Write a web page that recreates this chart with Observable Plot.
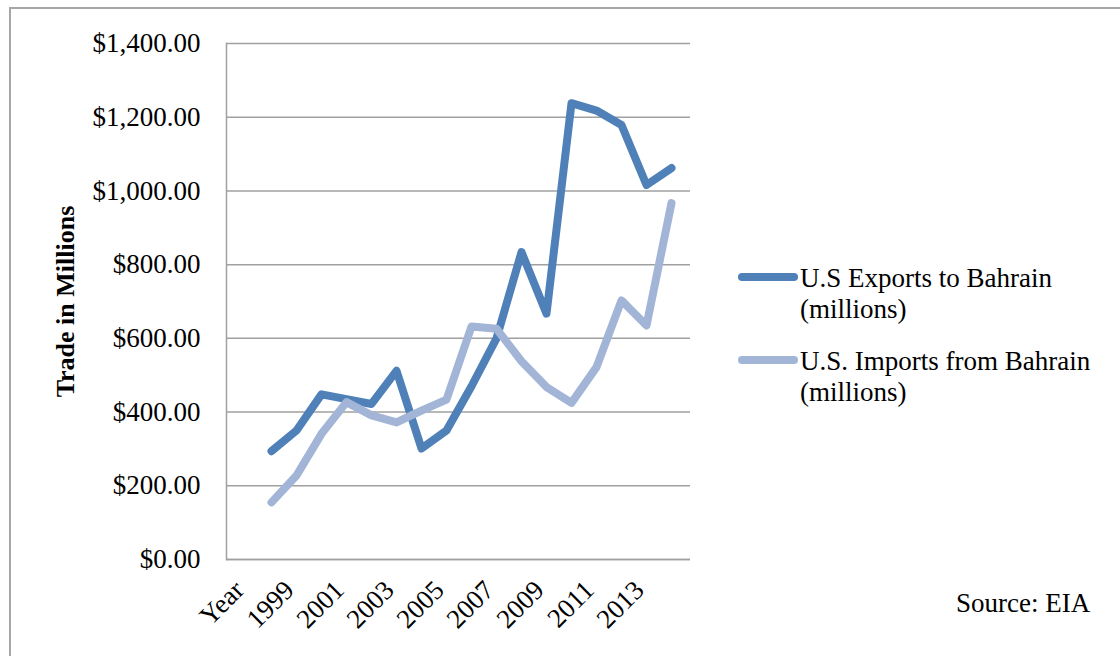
<!DOCTYPE html>
<html>
<head>
<meta charset="utf-8">
<script src="https://cdn.jsdelivr.net/npm/d3@7"></script>
<script src="https://cdn.jsdelivr.net/npm/@observablehq/plot@0.6"></script>
<style>
html, body { margin: 0; padding: 0; background: #fff; overflow: hidden; }
#wrap { position: relative; width: 1120px; height: 656px; overflow: hidden; font-family: "Liberation Serif", serif; color: #000; }
#chart { position: absolute; left: 0; top: 0; }
#frame { position: absolute; left: 9px; top: 7px; width: 1200px; height: 700px; border: 2px solid #a6a6a6; box-sizing: border-box; pointer-events: none; }
.leg { position: absolute; left: 738px; font-size: 27px; line-height: 31px; }
.leg .sw { position: absolute; left: 0; top: 10px; width: 60px; height: 8px; border-radius: 4px; }
.leg .tx { position: absolute; left: 62px; top: 0; white-space: nowrap; }
#source { position: absolute; left: 956px; top: 588px; font-size: 27px; line-height: 31px; white-space: nowrap; }
</style>
</head>
<body>
<div id="wrap">
  <div id="chart"></div>
  <div id="frame"></div>
  <div class="leg" id="leg1" style="top:263px"><div class="sw" style="background:#4f81b8"></div><div class="tx">U.S Exports to Bahrain<br>(millions)</div></div>
  <div class="leg" id="leg2" style="top:346px"><div class="sw" style="background:#a2b5d7"></div><div class="tx">U.S. Imports from Bahrain<br>(millions)</div></div>
  <div id="source">Source: EIA</div>
</div>
<script>
// Categories on the x axis (the first one is the header cell "Year", with no data)
const categories = ["Year", "1998", "1999", "2000", "2001", "2002", "2003", "2004", "2005", "2006",
  "2007", "2008", "2009", "2010", "2011", "2012", "2013", "2014"];
const years = ["1998", "1999", "2000", "2001", "2002", "2003", "2004", "2005", "2006",
  "2007", "2008", "2009", "2010", "2011", "2012", "2013", "2014"];
// U.S Exports to Bahrain (millions)
const exportsM = [294, 350, 448, 435, 422, 512, 301, 350, 470, 600, 834, 667, 1238, 1218, 1179, 1016, 1062];
// U.S. Imports from Bahrain (millions)
const importsM = [155, 228, 341, 427, 391, 372, 404, 434, 632, 626, 538, 468, 425, 522, 703, 635, 967];
const xTickLabels = ["Year", "1999", "2001", "2003", "2005", "2007", "2009", "2011", "2013"];
const yTicks = [0, 200, 400, 600, 800, 1000, 1200, 1400];
const seriesNames = ["U.S Exports to Bahrain (millions)", "U.S. Imports from Bahrain (millions)"];
const seriesColors = ["#4f81b8", "#a2b5d7"];

const rows = [];
years.forEach((y, i) => {
  rows.push({year: y, value: exportsM[i], series: seriesNames[0]});
  rows.push({year: y, value: importsM[i], series: seriesNames[1]});
});

const gridColor = "#a0a0a0";
const fontFamily = "'Liberation Serif', serif";

const chart = Plot.plot({
  width: 1120,
  height: 656,
  marginLeft: 226,
  marginRight: 430,
  marginTop: 43,
  marginBottom: 97,
  style: {background: "transparent", fontFamily: fontFamily, fontSize: "27px", color: "#000"},
  x: {type: "point", domain: categories, padding: 0.5, label: null},
  y: {domain: [0, 1400], label: null},
  color: {domain: seriesNames, range: seriesColors},
  marks: [
    Plot.gridY(yTicks, {stroke: gridColor, strokeOpacity: 1, strokeWidth: 1.5}),
    Plot.frame({anchor: "left", stroke: gridColor, strokeWidth: 1.5}),
    Plot.ruleY([0], {stroke: gridColor, strokeWidth: 1.5}),
    Plot.axisY(yTicks, {tickSize: 0, tickPadding: 26, tickFormat: d3.format("$,.2f"), fontSize: 27, label: null}),
    Plot.axisX(xTickLabels, {tickSize: 0, tickRotate: -45, tickPadding: 26, dx: -7, fontSize: 27, label: null}),
    Plot.text(["Trade in Millions"], {frameAnchor: "left", rotate: -90, dx: -161, textAnchor: "middle", lineAnchor: "middle", fontWeight: "bold", fontSize: 26}),
    Plot.line(rows, {x: "year", y: "value", z: "series", stroke: "series", strokeWidth: 8, strokeLinecap: "round", strokeLinejoin: "round"})
  ]
});
document.getElementById("chart").appendChild(chart);
</script>
</body>
</html>
